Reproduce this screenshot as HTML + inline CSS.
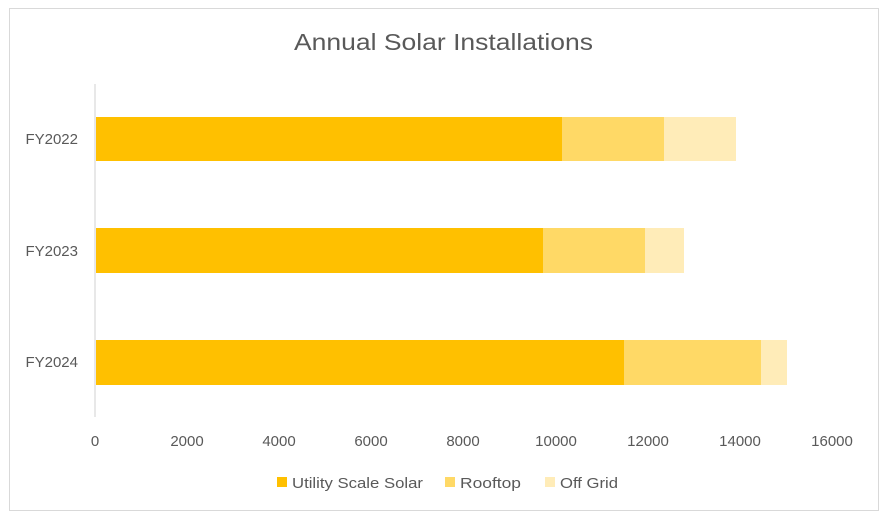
<!DOCTYPE html>
<html><head><meta charset="utf-8"><style>
body{margin:0;background:#fff;}
svg{display:block;font-family:"Liberation Sans",sans-serif;}
</style></head><body>
<svg width="891" height="520" viewBox="0 0 891 520">
<rect x="0" y="0" width="891" height="520" fill="#fff"/>
<rect x="9.5" y="8.5" width="869" height="502" fill="#fff" stroke="#d9d9d9"/>
<text x="294" y="50" textLength="299" lengthAdjust="spacingAndGlyphs" font-size="23" fill="#595959">Annual Solar Installations</text>
<line x1="95" y1="84" x2="95" y2="417" stroke="#d9d9d9" stroke-width="1.2"/>
<g>
<rect x="96" y="117" width="466" height="44" fill="#FFC000"/>
<rect x="562" y="117" width="102" height="44" fill="#FFD966"/>
<rect x="664" y="117" width="72" height="44" fill="#FFECB8"/>
<rect x="96" y="228" width="447" height="45" fill="#FFC000"/>
<rect x="543" y="228" width="102" height="45" fill="#FFD966"/>
<rect x="645" y="228" width="39" height="45" fill="#FFECB8"/>
<rect x="96" y="340" width="528" height="45" fill="#FFC000"/>
<rect x="624" y="340" width="137" height="45" fill="#FFD966"/>
<rect x="761" y="340" width="26" height="45" fill="#FFECB8"/>
</g>
<g font-size="15" fill="#595959" text-anchor="end">
<text x="78" y="144">FY2022</text>
<text x="78" y="256">FY2023</text>
<text x="78" y="367">FY2024</text>
</g>
<g font-size="15" fill="#595959" text-anchor="middle">
<text x="95" y="446">0</text>
<text x="187" y="446">2000</text>
<text x="279" y="446">4000</text>
<text x="371" y="446">6000</text>
<text x="463" y="446">8000</text>
<text x="556" y="446">10000</text>
<text x="648" y="446">12000</text>
<text x="740" y="446">14000</text>
<text x="832" y="446">16000</text>
</g>
<g font-size="15" fill="#595959">
<rect x="277" y="477" width="10" height="10" fill="#FFC000"/>
<text x="292" y="488" textLength="131" lengthAdjust="spacingAndGlyphs">Utility Scale Solar</text>
<rect x="445" y="477" width="10" height="10" fill="#FFD966"/>
<text x="460" y="488" textLength="61" lengthAdjust="spacingAndGlyphs">Rooftop</text>
<rect x="545" y="477" width="10" height="10" fill="#FFECB8"/>
<text x="560" y="488" textLength="58" lengthAdjust="spacingAndGlyphs">Off Grid</text>
</g>
</svg>
</body></html>
